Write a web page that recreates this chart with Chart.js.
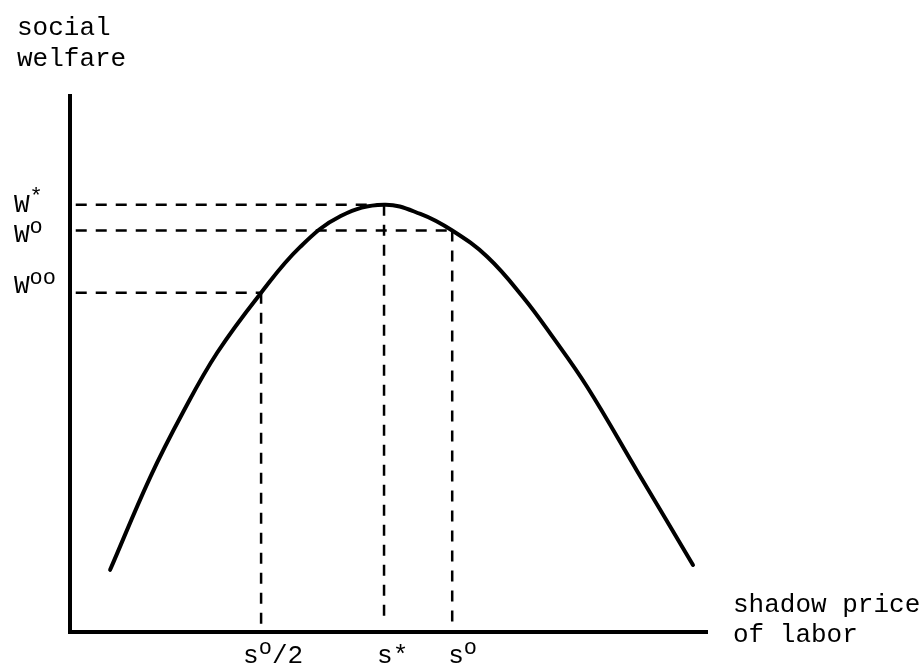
<!DOCTYPE html>
<html>
<head>
<meta charset="utf-8">
<script src="https://cdn.jsdelivr.net/npm/chart.js@4/dist/chart.umd.min.js"></script>
<style>
html,body{margin:0;padding:0;background:#fff}
#wrap{width:924px;height:666px;position:relative}
</style>
</head>
<body>
<div id="wrap"><canvas id="c"></canvas></div>
<script>
// ---- data (axis units 0..100) ----
const curveX = [6.3, 12.6, 17.7, 23.1, 30.0, 36.1, 42.5, 49.3, 55.0, 60.0, 65.5, 71.1, 75.8, 81.2, 89.0, 97.8];
const curveY = [11.6, 28.9, 40.9, 52.1, 63.3, 71.8, 77.6, 79.7, 78.0, 74.9, 70.0, 62.5, 55.0, 45.7, 30.1, 12.5];
const sValues = [30.0, 49.3, 60.0];               // s°/2, s*, s°
const sLabels = ['s{o}/2', 's*', 's{o}'];
const wValues = [63.3, 79.7, 74.9];               // W°°, W*, W°  (paired with sValues)
const wLabels = ['W{oo}', 'W{*}', 'W{o}'];
const yTitle = ['social', 'welfare'];
const xTitle = ['shadow price', 'of labor'];

// ---- build datasets ----
const curveData = curveX.map((x, i) => ({x: x, y: curveY[i]}));
const H_START = 0.9, V_END = 1.5;
const dashStyle = {borderColor: '#000', borderWidth: 2.5, borderDash: [11, 9], pointRadius: 0, fill: false, tension: 0};
const guideSets = [];
sValues.forEach((s, i) => {
  const w = wValues[i];
  guideSets.push(Object.assign({data: [{x: H_START, y: w}, {x: s, y: w}]}, dashStyle));
  guideSets.push(Object.assign({data: [{x: s, y: w}, {x: s, y: V_END}]}, dashStyle));
});

const FONT_FAMILY = '"Liberation Mono", "DejaVu Sans Mono", monospace';
const BASE_FONT = '26px ' + FONT_FAMILY;
const SUP_FONT = '22px ' + FONT_FAMILY;

function drawRich(ctx, str, x, y) {
  const re = /\{([^}]*)\}|([^{]+)/g;
  let m, cx = x;
  while ((m = re.exec(str))) {
    const sup = m[1] !== undefined;
    const t = sup ? m[1] : m[2];
    ctx.font = sup ? SUP_FONT : BASE_FONT;
    ctx.fillText(t, cx, sup ? y - 9 : y);
    cx += ctx.measureText(t).width;
  }
}

const textPlugin = {
  id: 'textLabels',
  afterDraw(chart) {
    const ctx = chart.ctx, area = chart.chartArea;
    const xs = chart.scales.x, ys = chart.scales.y;
    ctx.save();
    ctx.fillStyle = '#000';
    ctx.textAlign = 'left';
    ctx.textBaseline = 'alphabetic';
    ctx.font = BASE_FONT;
    yTitle.forEach((t, i) => ctx.fillText(t, area.left - 53, 35 + i * 31));
    xTitle.forEach((t, i) => ctx.fillText(t, area.right + 26, area.bottom - 20 + i * 30));
    const wOff = [0, 7, 11.5];
    wLabels.forEach((t, i) => drawRich(ctx, t, area.left - 56, ys.getPixelForValue(wValues[i]) + wOff[i]));
    const sOff = [-18, -7, -4];
    sLabels.forEach((t, i) => drawRich(ctx, t, xs.getPixelForValue(sValues[i]) + sOff[i], area.bottom + 31));
    ctx.restore();
  }
};

const axisOpts = {
  type: 'linear', min: 0, max: 100,
  ticks: {display: false},
  grid: {display: false, drawTicks: false},
  border: {display: true, width: 4, color: '#000'}
};

new Chart(document.getElementById('c'), {
  type: 'line',
  data: {
    datasets: [
      {data: curveData, borderColor: '#000', borderWidth: 4, pointRadius: 0, fill: false,
       tension: 0.4, borderCapStyle: 'round', borderJoinStyle: 'round'}
    ].concat(guideSets)
  },
  options: {
    responsive: true,
    maintainAspectRatio: false,
    animation: false,
    layout: {padding: {left: 70, top: 96, right: 217, bottom: 34}},
    plugins: {legend: {display: false}, tooltip: {enabled: false}},
    scales: {
      x: Object.assign({}, axisOpts),
      y: Object.assign({}, axisOpts)
    }
  },
  plugins: [textPlugin]
});
</script>
</body>
</html>
